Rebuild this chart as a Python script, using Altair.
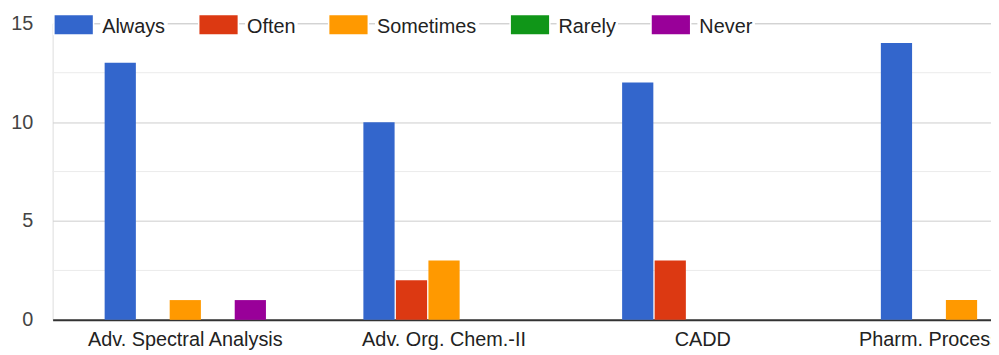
import altair as alt
import pandas as pd

# ---- data ----
categories = ["Adv. Spectral Analysis", "Adv. Org. Chem.-II", "CADD", "Pharm. Process Chem."]
series = ["Always", "Often", "Sometimes", "Rarely", "Never"]
colors = ["#3366cc", "#dc3912", "#ff9900", "#109618", "#990099"]
always = [13, 10, 12, 14]
often = [0, 2, 3, 0]
sometimes = [1, 3, 0, 1]
rarely = [0, 0, 0, 0]
never = [1, 0, 0, 0]
y_ticks = [0, 5, 10, 15]
minor_ticks = [2.5, 7.5, 12.5]

values_by_series = [always, often, sometimes, rarely, never]
rows = []
for s, vals in zip(series, values_by_series):
    for c, v in zip(categories, vals):
        if v > 0:
            rows.append({"category": c, "series": s, "value": v})
df = pd.DataFrame(rows)

# ---- layout ----
FONT = "Liberation Sans"
PLOT_W = 946          # visible plot width (clipped at window edge)
RANGE_W = 1050        # full x range (chart extends beyond the window)
PLOT_H = 299

yscale = alt.Scale(domain=[0, 15], nice=False, zero=True)
yaxis = alt.Axis(
    title=None, values=y_ticks, labelFont=FONT, labelFontSize=20,
    labelColor="#444444", labelPadding=20, ticks=False, domain=False,
    grid=True, gridColor="#cccccc", gridWidth=1,
)

minor = alt.Chart(pd.DataFrame({"value": minor_ticks})).mark_rule(
    color="#ebebeb", strokeWidth=1
).encode(
    y=alt.Y("value:Q", scale=yscale, axis=yaxis),
    x=alt.value(0),
    x2=alt.value(PLOT_W),
)

bars = alt.Chart(df).mark_bar().encode(
    x=alt.X(
        "category:N",
        sort=categories,
        scale=alt.Scale(range=[0, RANGE_W], paddingInner=0.3766, paddingOuter=0.201),
        axis=alt.Axis(
            title=None, labelAngle=0, labelFont=FONT, labelFontSize=20,
            labelColor="#222222", labelPadding=10, ticks=False,
            domainColor="#333333", domainWidth=2, grid=False,
            labelOverlap=False, labelLimit=0,
        ),
    ),
    xOffset=alt.XOffset("series:N", sort=series,
                        scale=alt.Scale(domain=series, paddingInner=0.04, paddingOuter=0)),
    y=alt.Y("value:Q", scale=yscale, axis=yaxis),
    color=alt.Color("series:N", scale=alt.Scale(domain=series, range=colors), legend=None),
)

# ---- custom legend sitting on the top gridline ----
legend_swatch_x = [2, 148, 279, 462, 604]      # relative to plot left
legend_text_w = [64, 49, 101, 58, 54]
one = pd.DataFrame({"k": [0]})
legend_layers = []
for s, col, lx, tw in zip(series, colors, legend_swatch_x, legend_text_w):
    tx = lx + 48
    legend_layers.append(
        alt.Chart(one).mark_rect(color="white").encode(
            x=alt.value(lx - 1.5), x2=alt.value(lx + 40), y=alt.value(-9), y2=alt.value(12))
    )
    legend_layers.append(
        alt.Chart(one).mark_rect(color="white").encode(
            x=alt.value(tx - 2), x2=alt.value(tx + tw + 2), y=alt.value(-9), y2=alt.value(12))
    )
    legend_layers.append(
        alt.Chart(one).mark_rect(color=col).encode(
            x=alt.value(lx), x2=alt.value(lx + 38.5), y=alt.value(-8), y2=alt.value(11))
    )
    legend_layers.append(
        alt.Chart(one).mark_text(
            font=FONT, fontSize=20, color="#222222", align="left", baseline="alphabetic"
        ).encode(x=alt.value(tx), y=alt.value(9.7), text=alt.value(s))
    )

chart = alt.layer(minor, bars, *legend_layers).properties(
    width=PLOT_W,
    height=PLOT_H,
    padding={"left": 45, "top": 14, "right": 0, "bottom": 30},
    autosize=alt.AutoSizeParams(type="none"),
).configure_view(stroke=None).configure(background="white")

chart.save("out.html", embed_options={"renderer": "svg", "actions": False})
